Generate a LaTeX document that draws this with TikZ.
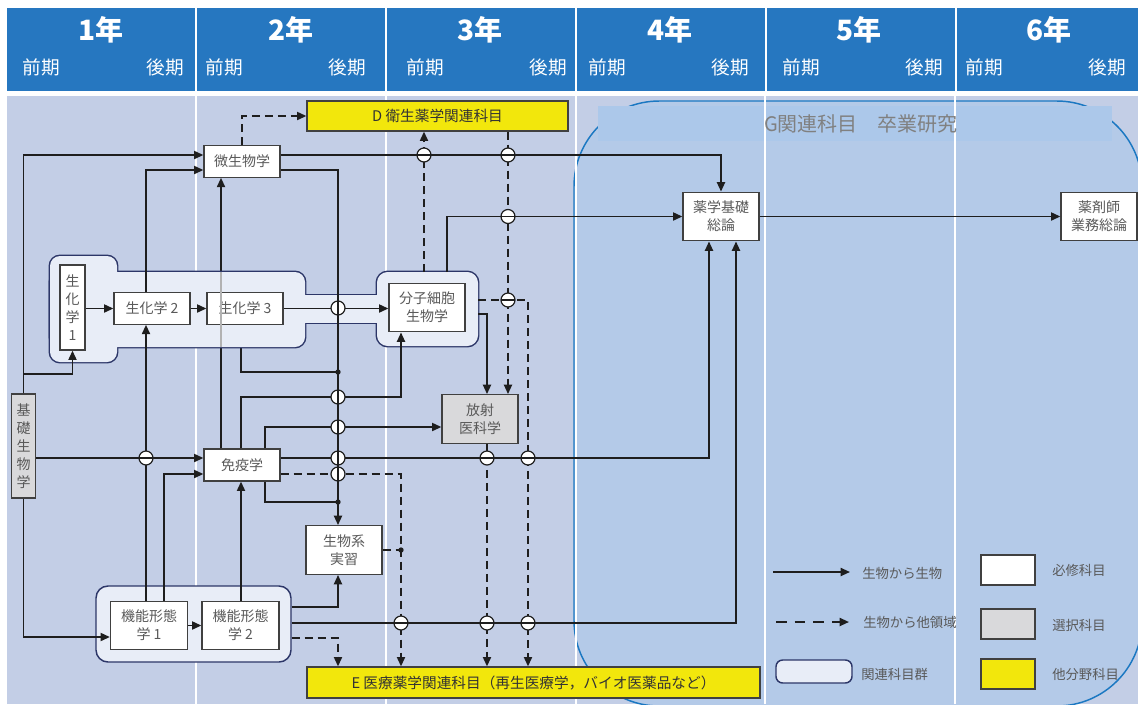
\documentclass[tikz,border=0pt]{standalone}
\usepackage{fontspec}
\setmainfont{Noto Sans CJK JP}
\usetikzlibrary{arrows.meta}
\definecolor{hdr}{RGB}{38,119,192}
\definecolor{bodybg}{RGB}{195,206,230}
\definecolor{gfill}{RGB}{180,202,232}
\definecolor{gband}{RGB}{172,200,234}
\definecolor{gline}{RGB}{27,120,194}
\definecolor{grpfill}{RGB}{232,237,247}
\definecolor{grpline}{RGB}{44,54,104}
\definecolor{boxline}{RGB}{64,64,64}
\definecolor{selgray}{RGB}{217,217,219}
\definecolor{yel}{RGB}{242,231,12}
\definecolor{txt}{RGB}{89,89,89}
\definecolor{ln}{RGB}{30,30,30}
\tikzset{
  subj/.style={draw=boxline, fill=white, line width=0.9pt, text=txt, align=center,
    inner sep=1pt, minimum width=57pt, minimum height=23.5pt,
    font=\fontsize{10.5}{13.5}\selectfont},
  tall/.style={subj, minimum height=36.5pt},
  sel/.style={fill=selgray},
  other/.style={draw=boxline, fill=yel, line width=0.9pt, text=black!80,
    inner sep=1pt, font=\fontsize{11}{13}\selectfont},
  grp/.style={draw=grpline, fill=grpfill, line width=1.1pt, rounded corners=8pt},
  arr/.style={draw=ln, line width=1.4pt, -{Triangle[length=7pt,width=6pt]}},
  dsh/.style={arr, dash pattern=on 6pt off 3.75pt},
  wire/.style={draw=ln, line width=1.4pt},
  legtxt/.style={text=txt, anchor=west, inner sep=0pt, font=\fontsize{10}{12}\selectfont},
  hoph/.pic={\draw[ln, line width=0.9pt, fill=white] (0,0) circle (5.25pt);
    \draw[ln, line width=1.4pt] (-5.25pt,0) -- (5.25pt,0);},
  hopv/.pic={\draw[ln, line width=0.9pt, fill=white] (0,0) circle (5.25pt);
    \draw[ln, line width=1.4pt] (0,-5.25pt) -- (0,5.25pt);},
}
\begin{document}
\begin{tikzpicture}[x=0.75pt, y=-0.75pt]
\useasboundingbox (0,0) rectangle (1138,704);
\fill[white] (0,0) rectangle (1138,704);
%header
\foreach \l/\r in {7/195,197/385,387/575,577/765,767/955,957/1138}
  \fill[hdr] (\l,8) rectangle (\r,91);
\foreach \n/\c/\a/\b in {1/101/41/165,2/291/224/347,3/480/425/548,4/670/607/730,5/859/801/924,6/1049/984/1107}{
  \node[text=white, font=\fontsize{21}{24}\selectfont\bfseries] (yr\n) at (\c,30) {\n{}年};
  \node[text=white, font=\fontsize{14}{16}\selectfont] (zen\n) at (\a,67) {前期};
  \node[text=white, font=\fontsize{14}{16}\selectfont] (kou\n) at (\b,67) {後期};
}
%body
\fill[bodybg] (7,96) rectangle (1138,704);
\begin{scope}
\clip (7,96) rectangle (1138,704);
\draw[gline, fill=gfill, line width=1.1pt, rounded corners=64pt] (574,101) rectangle (1142,706);
\end{scope}
\fill[gband] (598,106) rectangle (1112,141);
\foreach \x in {196,386,576,765,955}
  \draw[white, line width=1.5pt] (\x,96) -- (\x,704);
\node[text=black!50, font=\fontsize{15}{18}\selectfont] (gtitle) at (861,124) {G関連科目　卒業研究};

%subjects
\node[subj] (bisei) at (242,161.5) {微生物学};
\node[subj] (seika3) at (245,308.5) {生化学 3};
\node[subj, minimum height=24pt] (meneki) at (242,465) {免疫学};
\node[tall] (bunshi) at (427,307.5) {分子細胞\\生物学};
%links under the groups
\draw[arr] (meneki.north -| 221,0) -- (bisei.south -| 221,0);
\coordinate (j1) at (338,372);
\draw[wire] (seika3.south -| 241,0) |- (j1);

%groups
\draw[grpline, line width=2.2pt, rounded corners=7.5pt] (50,256) rectangle (117,362);
\draw[grpline, line width=2.2pt, rounded corners=7.5pt] (50,272) rectangle (305,347);
\draw[grpline, line width=2.2pt] (295,295) rectangle (387,323);
\node[grp, line width=2.2pt, outer sep=0pt, minimum width=75.75pt, minimum height=55.5pt] (bunGrp) at (427.5,309) {};
\fill[grpfill, rounded corners=7.5pt] (50,256) rectangle (117,362);
\fill[grpfill, rounded corners=7.5pt] (50,272) rectangle (305,347);
\fill[grpfill] (295,295) rectangle (387,323);
\fill[grpfill, rounded corners=8pt] (bunGrp.south west) rectangle (bunGrp.north east);
\node[grp, minimum width=146.25pt, minimum height=57pt, rounded corners=9pt] (kinoGrp) at (193.5,624) {};

\node[subj, minimum width=18.75pt, minimum height=63.75pt] (seika1) at (72.5,307.5) {生\\化\\学\\1};
\node[subj] (seika2) at (152,308.5) {生化学 2};
\node[subj] (seika3) at (245,308.5) {生化学 3};
\node[tall] (bunshi) at (427,307.5) {分子細胞\\生物学};
\node[subj, sel, minimum width=18pt, minimum height=78pt] (kiso) at (23.5,446) {基\\礎\\生\\物\\学};
\node[tall, sel] (housha) at (480,419) {放射\\医科学};
\node[tall] (jisshu) at (344,550) {生物系\\実習};
\node[tall, minimum width=57.75pt] (kino1) at (149,625.5) {機能形態\\学 1};
\node[tall, minimum width=57.75pt] (kino2) at (240.5,625.5) {機能形態\\学 2};
\node[tall] (yakukiso) at (721,216.5) {薬学基礎\\総論};
\node[tall] (yakuzai) at (1099,216.5) {薬剤師\\業務総論};
\node[other, minimum width=195.75pt, minimum height=22.5pt] (dbox) at (437.5,116) {D 衛生薬学関連科目};
\node[other, minimum width=339.75pt, minimum height=23.25pt] (ebox) at (533.5,682.5) {E 医療薬学関連科目（再生医療学，バイオ医薬品など）};
\draw[black!30, line width=1.4pt] (221,272) -- (221,347);

%links
\coordinate (j2) at (338,502);
\coordinate (j3) at (401,550);
\draw[arr] (kiso.north) |- (bisei.west |- 0,155);
\draw[arr] (kiso.north) |- (seika1.south |- 0,374) -- (seika1.south);
\draw[arr] (kiso.south) |- (kino1.west |- 0,637);
\draw[arr] (kiso.east |- 0,458) -- (meneki.west |- 0,458);
\draw[arr] (seika1.east |- seika2) -- (seika2.west);
\draw[arr] (seika2.east) -- (seika3.west);
\draw[arr] (seika2.north -| 146,0) |- (bisei.west |- 0,170);
\draw[arr, {Triangle[length=7pt,width=6pt]}-] (seika2.south -| 146,0) -- (kino1.north -| 146,0);
\draw[arr] (seika3.east) -- (bunshi.west |- seika3.east);
\draw[arr] (bisei.east |- 0,170) -| (jisshu.north -| 338,0);
\draw[dsh] (bisei.north) |- (dbox.west |- 0,116);
\draw[arr] (bisei.east |- 0,155) -| (yakukiso.north);
\draw[arr] (meneki.north -| 241,0) |- (401,397) -- (bunshi.south -| 401,0);
\draw[arr] (meneki.north -| 265,0) |- (housha.west |- 0,427);
\draw[arr] (meneki.east |- 0,458) -| (yakukiso.south -| 709,0);
\draw[dsh] (meneki.east |- 0,474) -| (ebox.north -| 401,0);
\draw[wire] (meneki.south -| 265,0) |- (j2);
\draw[arr, {Triangle[length=7pt,width=6pt]}-] (meneki.south -| 241,0) -- (kino2.north -| 241,0);
\draw[arr] (kino1.north -| 164,0) |- (meneki.west |- 0,474);
\draw[arr] (kino1.east) -- (kino2.west);
\draw[arr] (kinoGrp.east |- 0,607) -| (jisshu.south -| 338,0);
\draw[arr] (kinoGrp.east |- 0,623) -| (yakukiso.south -| 736,0);
\draw[dsh] (kinoGrp.east |- 0,638) -| (ebox.north -| 338,0);
\draw[wire, dash pattern=on 6pt off 3.75pt] (jisshu.east |- j3) -- (j3);
\draw[dsh] (bunGrp.north -| 424,0) -- (dbox.south -| 424,0);
\draw[arr] (bunGrp.north -| 447,0) |- (yakukiso.west);
\draw[dsh] (bunGrp.east |- 0,300) -| (ebox.north -| 528,0);
\draw[arr] (bunGrp.east |- 0,314) -| (housha.north -| 487,0);
\draw[dsh] (dbox.south -| 508,0) -- (housha.north -| 508,0);
\draw[dsh] (housha.south -| 487,0) -- (ebox.north -| 487,0);
\draw[arr] (yakukiso.east) -- (yakuzai.west);
%hops and dots
\foreach \p in {{338,308},{338,397},{338,427},{338,458},{338,474}}
  \pic at (\p) {hopv};
\foreach \p in {{146,458},{424,155},{508,155},{508,216.5},{508,300},{487,458},{528,458},{401,623},{487,623},{528,623}}
  \pic at (\p) {hoph};
\foreach \c in {j1,j2,j3}
  \fill[ln] (\c) circle (2pt);

%legend
\coordinate (lgS1) at (773,572);
\coordinate (lgS2) at (850,572);
\draw[arr] (lgS1) -- (lgS2);
\node[legtxt] (lgStxt) at (862,573) {生物から生物};
\coordinate (lgD1) at (776,622);
\coordinate (lgD2) at (849,622);
\draw[arr, dash pattern=on 8pt off 6pt] (lgD1) -- (lgD2);
\node[legtxt] (lgDtxt) at (863,622) {生物から他領域};
\node[grp, minimum width=57pt, minimum height=17.25pt, rounded corners=5pt] (lgGrp) at (814,671.5) {};
\node[legtxt] (lgGtxt) at (861,674) {関連科目群};
\node[subj, minimum width=40.5pt, minimum height=22.5pt] (lgReq) at (1008,570) {};
\node[legtxt] (lgReqtxt) at (1052,570) {必修科目};
\node[subj, sel, minimum width=40.5pt, minimum height=22.5pt] (lgSel) at (1008,624) {};
\node[legtxt] (lgSeltxt) at (1052,625) {選択科目};
\node[other, minimum width=40.5pt, minimum height=22.5pt] (lgOth) at (1008,674) {};
\node[legtxt] (lgOthtxt) at (1052,674) {他分野科目};
\end{tikzpicture}
\end{document}
